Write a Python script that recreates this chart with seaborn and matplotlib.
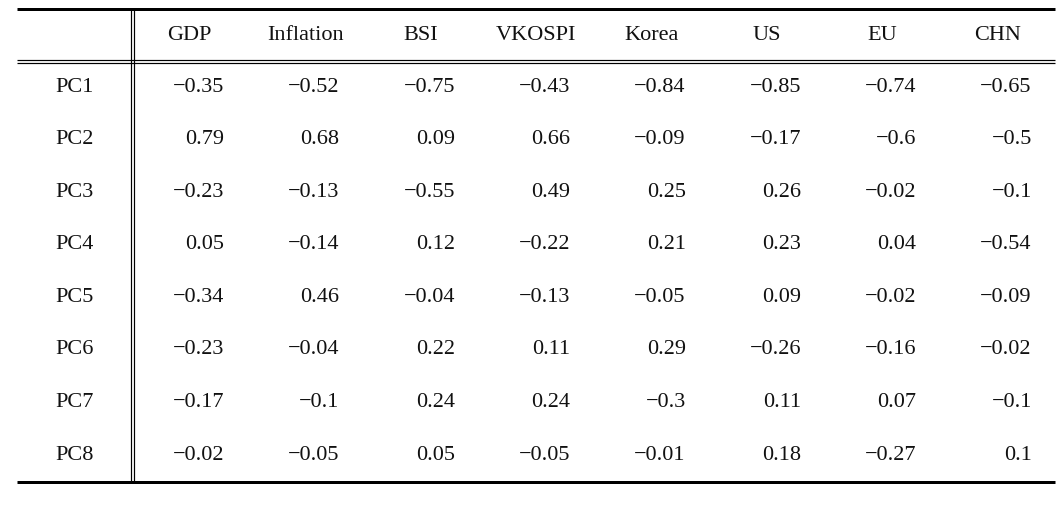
import matplotlib
matplotlib.use("Agg")
import matplotlib.pyplot as plt
import seaborn as sns
import numpy as np

columns = ["GDP", "Inflation", "BSI", "VKOSPI", "Korea", "US", "EU", "CHN"]
rows = ["PC1", "PC2", "PC3", "PC4", "PC5", "PC6", "PC7", "PC8"]
values = [
    ["-0.35", "-0.52", "-0.75", "-0.43", "-0.84", "-0.85", "-0.74", "-0.65"],
    ["0.79", "0.68", "0.09", "0.66", "-0.09", "-0.17", "-0.6", "-0.5"],
    ["-0.23", "-0.13", "-0.55", "0.49", "0.25", "0.26", "-0.02", "-0.1"],
    ["0.05", "-0.14", "0.12", "-0.22", "0.21", "0.23", "0.04", "-0.54"],
    ["-0.34", "0.46", "-0.04", "-0.13", "-0.05", "0.09", "-0.02", "-0.09"],
    ["-0.23", "-0.04", "0.22", "0.11", "0.29", "-0.26", "-0.16", "-0.02"],
    ["-0.17", "-0.1", "0.24", "0.24", "-0.3", "0.11", "0.07", "-0.1"],
    ["-0.02", "-0.05", "0.05", "-0.05", "-0.01", "0.18", "-0.27", "0.1"],
]

sns.set_theme(style="white")
plt.rcParams['font.family'] = ['Liberation Serif', 'DejaVu Serif']

W, H = 1063, 507
fig = plt.figure(figsize=(W / 100, H / 100), dpi=100)
ax = fig.add_axes([0, 0, 1, 1])
ax.set_xlim(0, W)
ax.set_ylim(H, 0)
ax.axis("off")

left, right = 17, 1055
label_w = 115
col_w = (right - (left + label_w)) / len(columns)
top_y, head_y, bottom_y = 8.5, 35, 482
row0, row_h = 87, 52.6
fs = 16
px = 0.72  # points per pixel

# horizontal rules
ax.plot([left, right], [top_y, top_y], color="black", lw=3 * px, solid_capstyle="butt")
for yy in (59.8, 62.8):
    ax.plot([left, right], [yy, yy], color="black", lw=1.2 * px, solid_capstyle="butt")
ax.plot([left, right], [bottom_y, bottom_y], color="black", lw=3 * px, solid_capstyle="butt")
# vertical double rule
for xx in (131, 134):
    ax.plot([xx, xx], [top_y + 1, bottom_y - 1], color="black", lw=1.2 * px, solid_capstyle="butt")

# header
for j, c in enumerate(columns):
    cx = left + label_w + col_w * (j + 0.5)
    ax.text(cx, head_y, c, ha="center", va="center", fontsize=fs, color="#111111")

# rows
for i, r in enumerate(rows):
    cy = row0 + i * row_h
    ax.text(75, cy, r, ha="center", va="center", fontsize=fs, color="#111111")
    for j, v in enumerate(values[i]):
        cx = left + label_w + col_w * (j + 0.5) + 34.5
        ax.text(cx, cy, v.replace("-", "\u2212"), ha="right", va="center",
                fontsize=fs, color="#111111")

fig.savefig("out.png", dpi=100)
